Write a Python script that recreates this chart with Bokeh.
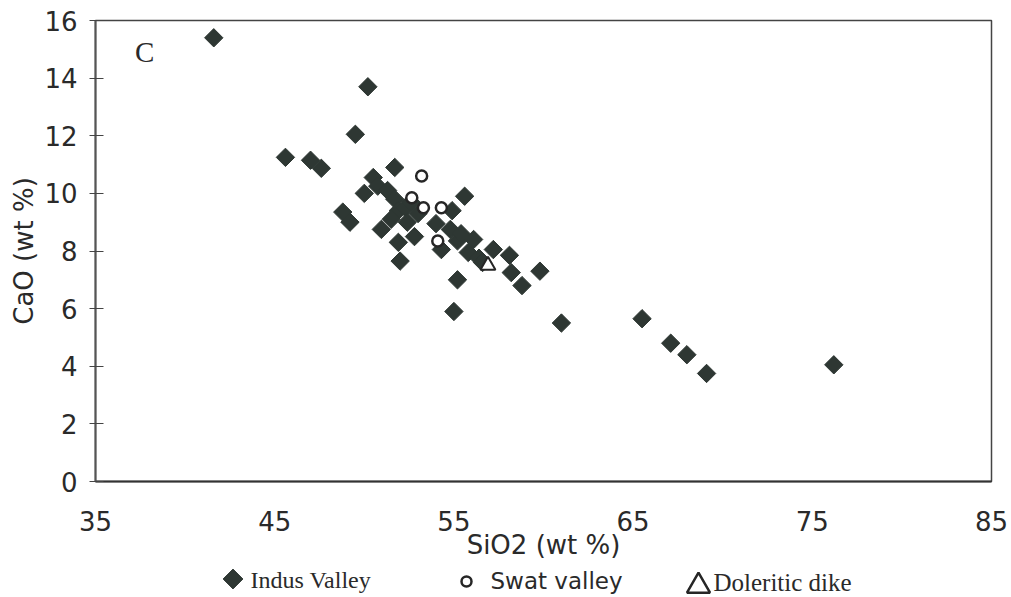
import numpy as np
from bokeh.plotting import figure
from bokeh.models import Range1d, Label
from bokeh.layouts import column
from bokeh.embed import file_html
from bokeh.resources import INLINE
from bokeh.core.properties import value

# ---- data ----
indus_sio2 = [41.6, 50.2, 49.5, 45.6, 47.0, 47.6, 51.7, 50.5, 50.75, 50.0,
              51.3, 51.7, 51.9, 51.5, 52.3, 48.8, 49.2, 50.95, 52.4, 51.9,
              52.8, 52.0, 52.6, 53.0, 55.6, 54.9, 54.0, 54.8, 55.2, 56.1,
              55.8, 54.3, 55.4, 56.4, 56.6, 57.2, 58.1, 58.2, 58.8, 59.8,
              55.2, 55.0, 61.0, 65.5, 67.1, 68.0, 69.1, 76.2]
indus_cao = [15.4, 13.7, 12.05, 11.25, 11.15, 10.87, 10.9, 10.55, 10.25, 10.0,
             10.1, 9.8, 9.4, 9.1, 9.5, 9.35, 9.0, 8.75, 9.0, 8.3,
             8.5, 7.65, 9.7, 9.3, 9.9, 9.4, 8.95, 8.75, 8.35, 8.4,
             7.95, 8.05, 8.6, 7.75, 7.6, 8.05, 7.85, 7.25, 6.8, 7.3,
             7.0, 5.9, 5.5, 5.65, 4.8, 4.4, 3.75, 4.05]
swat_sio2 = [53.2, 52.65, 53.3, 54.3, 54.1]
swat_cao = [10.6, 9.85, 9.5, 9.5, 8.35]
dike_sio2 = [56.9]
dike_cao = [7.5]

x_ticks = [35, 45, 55, 65, 75, 85]
y_ticks = [0, 2, 4, 6, 8, 10, 12, 14, 16]
x_title = "SiO2 (wt %)"
y_title = "CaO (wt %)"
panel_letter = "C"
series_names = ["Indus Valley", "Swat valley", "Doleritic dike"]

DARK = "#2e3733"
TXT = "#2a2a2a"
SANS = "DejaVu Sans"
SERIF = "Liberation Serif"

p = figure(width=1008, height=568, x_range=Range1d(35, 85), y_range=Range1d(0, 16),
           output_backend="svg", toolbar_location=None, title=None,
           min_border_left=95, min_border_right=17, min_border_top=20, min_border_bottom=87)
p.grid.visible = False
p.outline_line_color = "#444444"
p.outline_line_width = 1.5

p.xaxis.ticker = x_ticks
p.yaxis.ticker = y_ticks
for ax in (p.xaxis[0], p.yaxis[0]):
    ax.minor_tick_line_color = None
    ax.major_label_text_font = SANS
    ax.major_label_text_font_size = "26px"
    ax.major_label_text_color = TXT
    ax.axis_label_text_font = SANS
    ax.axis_label_text_font_size = "26px"
    ax.axis_label_text_font_style = "normal"
    ax.axis_label_text_color = TXT
p.xaxis.axis_label = x_title
p.yaxis.axis_label = y_title
p.xaxis.major_tick_in = 0
p.xaxis.major_tick_out = 0
p.xaxis.axis_line_color = "#333333"
p.xaxis.axis_line_width = 2
p.xaxis.major_label_standoff = 29
p.xaxis.axis_label_standoff = -4
p.yaxis.major_tick_in = 8
p.yaxis.major_tick_out = 6
p.yaxis.major_tick_line_color = "#444444"
p.yaxis.axis_line_color = "#555555"
p.yaxis.axis_line_width = 2
p.yaxis.major_label_standoff = 12
p.yaxis.axis_label_standoff = 2

p.scatter(indus_sio2, indus_cao, marker="square", angle=np.pi / 4, size=13,
          fill_color=DARK, line_color=DARK, line_width=1)
p.scatter(swat_sio2, swat_cao, marker="circle", size=11,
          fill_color="white", line_color="#262626", line_width=2.5)
p.scatter(dike_sio2, dike_cao, marker="triangle", size=15,
          fill_color="white", line_color="#262626", line_width=2)

p.add_layout(Label(x=37.2, y=14.9, text=panel_letter, text_font=SERIF,
                   text_font_size="29px", text_color=TXT, text_baseline="alphabetic"))

# ---- legend strip (frame aligned with the main plot; x in page pixels) ----
q = figure(width=1008, height=29, x_range=Range1d(95, 991), y_range=Range1d(0, 29),
           output_backend="svg", toolbar_location=None, title=None,
           x_axis_location=None, y_axis_location=None,
           min_border_left=95, min_border_right=17, min_border_top=0, min_border_bottom=0,
           outline_line_color=None)
q.grid.visible = False
q.scatter([232.5], [18.5], marker="square", angle=np.pi / 4, size=14,
          fill_color=DARK, line_color=DARK, line_width=1)
q.scatter([466], [16.0], marker="circle", size=10,
          fill_color="white", line_color="#262626", line_width=2.5)
q.scatter([698], [11.5], marker="triangle", size=23,
          fill_color="white", line_color="#262626", line_width=2.5)
q.text([250], [18], text=[series_names[0]], text_font=value(SERIF),
       text_font_size="24px", text_color=TXT, text_baseline="alphabetic")
q.text([490], [17], text=[series_names[1]], text_font=value(SANS),
       text_font_size="23px", text_color=TXT, text_baseline="alphabetic")
q.text([713], [15], text=[series_names[2]], text_font=value(SERIF),
       text_font_size="25px", text_color=TXT, text_baseline="alphabetic")

layout = column(p, q, spacing=0)
open("out.html", "w").write(file_html(layout, INLINE))
